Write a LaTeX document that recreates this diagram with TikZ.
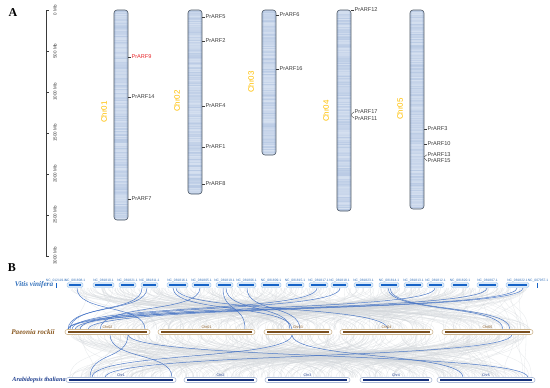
\documentclass[tikz,border=0pt]{standalone}
\usepackage{fontspec}
\setmainfont{Liberation Serif}
\setsansfont{Liberation Sans}
\definecolor{chrY}{HTML}{FFC000}
\definecolor{stripD}{HTML}{9AB2D7}
\definecolor{stripL}{HTML}{E6EDF7}
\definecolor{frameC}{HTML}{4A5563}
\definecolor{geneC}{HTML}{3A3A3A}
\definecolor{redG}{HTML}{E8262A}
\definecolor{vvC}{HTML}{2F6EBA}
\definecolor{vvBar}{HTML}{1663C7}
\definecolor{vvOut}{HTML}{A8CBEF}
\definecolor{prC}{HTML}{8A5A22}
\definecolor{prBar}{HTML}{7A4F1E}
\definecolor{prOut}{HTML}{CDB58E}
\definecolor{atC}{HTML}{1F3F8F}
\definecolor{atBar}{HTML}{15307A}
\definecolor{atOut}{HTML}{A9B9D6}
\definecolor{synB}{HTML}{3F6FC4}
\definecolor{bgS}{HTML}{D4D8DC}
\tikzset{
  panel/.style={font=\fontsize{12}{12}\selectfont\bfseries, inner sep=0},
  chrframe/.style={draw=frameC, line width=0.6},
  chrlab/.style={font=\sffamily\fontsize{8}{8}\selectfont, text=chrY, rotate=90, inner sep=0},
  genetick/.style={draw=geneC, line width=0.35},
  genelab/.style={font=\sffamily\fontsize{5.6}{5.6}\selectfont, text=geneC, anchor=west, inner sep=0.4},
  axislab/.style={font=\sffamily\fontsize{4.5}{4.5}\selectfont, text=geneC, rotate=90, inner sep=0},
  species/.style={font=\fontsize{7.2}{7.2}\selectfont\bfseries\itshape, inner sep=0},
  vvlab/.style={font=\sffamily\fontsize{3.3}{3.3}\selectfont, text=vvC, inner sep=0},
  prlab/.style={font=\sffamily\fontsize{3.6}{3.6}\selectfont, text=prC, inner sep=0},
  atlab/.style={font=\sffamily\fontsize{3.6}{3.6}\selectfont, text=atC, inner sep=0},
  synline/.style={draw=synB, line width=0.5, opacity=0.9},
  bgline/.style={draw=bgS, line width=0.3, opacity=0.55},
}
\newcommand{\chromosome}[2]{%
  \begin{scope}
    \clip[rounded corners=3] (#1,10) rectangle (#1+14,#2);
    \foreach \yy in {10,...,#2}{
      \pgfmathtruncatemacro{\mix}{22+38*rnd}
      \fill[stripD!\mix!stripL] (#1,\yy) rectangle (#1+14,\yy+1.05);
    }
    \fill[stripD, opacity=0.25] (#1,10) rectangle (#1+2,#2);
    \fill[stripD, opacity=0.25] (#1+12,10) rectangle (#1+14,#2);
  \end{scope}
  \draw[chrframe, rounded corners=3] (#1,10) rectangle (#1+14,#2);
}
\newcommand{\vvbar}[4]{% x1 x2 label name
  \fill[vvOut!45, draw=vvOut, line width=0.4, rounded corners=1.5] (#1-1,282.5) rectangle (#2+1,287.5);
  \fill[vvBar] (#1+1,283.8) rectangle (#2-1,286.2);
  \node[vvlab] (#4) at ({(#1+#2)/2},280.2) {#3};
}
\newcommand{\prbar}[4]{%
  \draw[prOut, fill=white, line width=0.6, rounded corners=2.5] (#1,329.5) rectangle (#2,334.5);
  \fill[prBar] (#1+3,330.9) rectangle (#2-3,333.1);
  \node[prlab] (#4) at ({(#1+#2)/2},326.8) {#3};
}
\newcommand{\atbar}[4]{%
  \draw[atOut, fill=white, line width=0.6, rounded corners=2.5] (#1,377.5) rectangle (#2,382.5);
  \fill[atBar] (#1+3,378.8) rectangle (#2-3,381.2);
  \node[atlab] (#4) at ({(#1+#2)/2},374.8) {#3};
}
\newcommand{\syntop}[2]{\draw[synline] (#1,288) .. controls (#1,313) and (#2,304) .. (#2,329.5);}
\newcommand{\synbot}[2]{\draw[synline] (#1,334.5) .. controls (#1,360) and (#2,352) .. (#2,377.5);}
\begin{document}
\begin{tikzpicture}[x=1pt,y=-1pt]
\useasboundingbox (0,0) rectangle (550,388);
\fill[white] (0,0) rectangle (550,388);
\pgfmathsetseed{11}
% ---------------- Panel A
\node[panel] (A) at (13,13) {A};
\draw[draw=geneC, line width=0.5] (46,10) -- (46,256);
\foreach \v/\yy in {0/10,500/51,1000/92,1500/133,2000/174,2500/215,3000/256}{
  \draw[draw=geneC, line width=0.5] (46,\yy) -- (49,\yy);
  \node[axislab] (ax\v) at (55,\yy) {\v\ Mb};
}
\chromosome{114}{220}
\chromosome{188}{194}
\chromosome{262}{155}
\chromosome{337}{211}
\chromosome{410}{209}
\node[chrlab] (c1) at (104,112) {Chr01};
\node[chrlab] (c2) at (177,101) {Chr02};
\node[chrlab] (c3) at (251,82) {Chr03};
\node[chrlab] (c4) at (326,111) {Chr04};
\node[chrlab] (c5) at (400,109) {Chr05};
% genes
\draw[genetick] (128,57) -- (131,57) node[genelab, text=redG] (g9) {PrARF9};
\draw[genetick] (128,97) -- (131,97) node[genelab] (g14) {PrARF14};
\draw[genetick] (128,199) -- (131,199) node[genelab] (g7) {PrARF7};
\draw[genetick] (202,17) -- (205,17) node[genelab] (g5) {PrARF5};
\draw[genetick] (202,41) -- (205,41) node[genelab] (g2) {PrARF2};
\draw[genetick] (202,106) -- (205,106) node[genelab] (g4) {PrARF4};
\draw[genetick] (202,147) -- (205,147) node[genelab] (g1) {PrARF1};
\draw[genetick] (202,184) -- (205,184) node[genelab] (g8) {PrARF8};
\draw[genetick] (276,15) -- (279,15) node[genelab] (g6) {PrARF6};
\draw[genetick] (276,69) -- (279,69) node[genelab] (g16) {PrARF16};
\draw[genetick] (351,10) -- (354,10) node[genelab] (g12) {PrARF12};
\draw[genetick] (351,114.5) -- (354,111.9) node[genelab] (g17) {PrARF17};
\draw[genetick] (351,115.5) -- (354,118.1) node[genelab] (g11) {PrARF11};
\draw[genetick] (424,129) -- (427,129) node[genelab] (g3) {PrARF3};
\draw[genetick] (424,144) -- (427,144) node[genelab] (g10) {PrARF10};
\draw[genetick] (424,157) -- (427,154.7) node[genelab] (g13) {PrARF13};
\draw[genetick] (424,158) -- (427,160.9) node[genelab] (g15) {PrARF15};
% ---------------- Panel B
\node[panel] (B) at (12,268) {B};
\node[species, text=vvC] (vv) at (34,285) {Vitis vinifera};
\node[species, text=prC] (pr) at (33,332) {Paeonia rockii};
\node[species, text=atC, font=\fontsize{6.2}{6.2}\selectfont\bfseries\itshape] (at) at (39,380) {Arabidopsis thaliana};
% background synteny
\foreach \i in {1,...,320}{
  \pgfmathsetmacro{\xa}{68+460*rnd}
  \pgfmathsetmacro{\xb}{68+462*rnd}
  \draw[bgline] (\xa,288) .. controls (\xa,312) and (\xb,305) .. (\xb,329.5);
}
\foreach \i in {1,...,320}{
  \pgfmathsetmacro{\xa}{68+462*rnd}
  \pgfmathsetmacro{\xb}{68+464*rnd}
  \draw[bgline] (\xa,334.5) .. controls (\xa,360) and (\xb,352) .. (\xb,377.5);
}
% highlighted synteny
\syntop{77}{145}
\syntop{147}{68}
\syntop{142}{70}
\syntop{173}{292}
\syntop{176}{388}
\syntop{223}{245}
\syntop{226}{290}
\syntop{247}{300}
\syntop{200}{100}
\syntop{317}{72}
\syntop{340}{80}
\syntop{388}{503}
\syntop{390}{510}
\syntop{435}{68}
\syntop{487}{75}
\syntop{517}{68}
\syntop{523}{88}
\synbot{110}{172}
\synbot{128}{90}
\synbot{128}{528}
\synbot{292}{92}
\synbot{292}{463}
\synbot{512}{105}
% Vitis chromosomes
\fill[vvBar] (55.5,282.5) rectangle (56.5,287.5);
\node[vvlab] (v0) at (56,280.2) {NC\_012119.1};
\vvbar{68}{82}{NC\_081808.1}{v1}
\vvbar{94}{113}{NC\_081810.1}{v2}
\vvbar{120}{135}{NC\_081821.1}{v3}
\vvbar{142}{157}{NC\_081811.1}{v4}
\vvbar{168}{187}{NC\_081816.1}{v5}
\vvbar{193}{210}{NC\_081805.1}{v6}
\vvbar{217}{232}{NC\_081819.1}{v7}
\vvbar{238}{255}{NC\_081806.1}{v8}
\vvbar{262}{280}{NC\_081809.1}{v9}
\vvbar{287}{303}{NC\_081815.1}{v10}
\vvbar{310}{327}{NC\_081817.1}{v11}
\vvbar{332}{347}{NC\_081818.1}{v12}
\vvbar{355}{372}{NC\_081823.1}{v13}
\vvbar{380}{398}{NC\_081814.1}{v14}
\vvbar{405}{422}{NC\_081813.1}{v15}
\vvbar{428}{443}{NC\_081812.1}{v16}
\vvbar{452}{468}{NC\_081820.1}{v17}
\vvbar{478}{497}{NC\_081807.1}{v18}
\vvbar{507}{528}{NC\_081822.1}{v19}
\fill[vvBar] (536.5,282.5) rectangle (537.5,287.5);
\node[vvlab] (v20) at (538,280.2) {NC\_007957.1};
% Paeonia chromosomes
\prbar{65}{150}{Chr02}{p2}
\prbar{158}{255}{Chr01}{p1}
\prbar{264}{332}{Chr03}{p3}
\prbar{340}{433}{Chr04}{p4}
\prbar{442}{533}{Chr05}{p5}
% Arabidopsis chromosomes
\atbar{66}{176}{Chr1}{a1}
\atbar{184}{257}{Chr2}{a2}
\atbar{265}{350}{Chr3}{a3}
\atbar{360}{432}{Chr4}{a4}
\atbar{437}{535}{Chr5}{a5}
\end{tikzpicture}
\end{document}
